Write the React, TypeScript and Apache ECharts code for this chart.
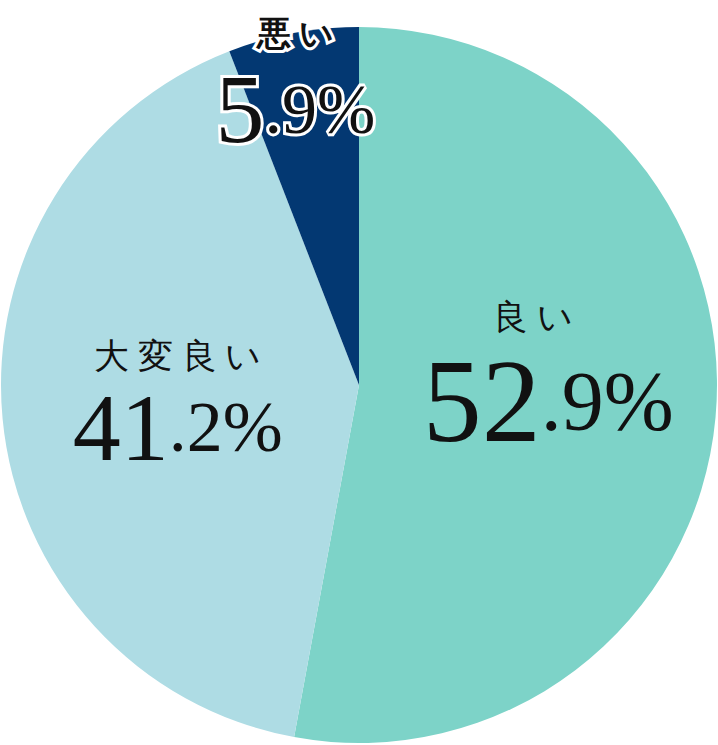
import { useEffect, useRef } from 'react'
import * as echarts from 'echarts'

const categories = ['良い', '大変良い', '悪い']
const labelTexts = ['良 い', '大 変 良 い', '悪 い']
const values = [52.9, 41.2, 5.9]
const colors = ['#7dd3c8', '#aedce4', '#033872']

const serif = 'Liberation Serif'

export default function App() {
  const ref = useRef<HTMLDivElement | null>(null)

  useEffect(() => {
    if (!ref.current) return
    document.body.style.margin = '0'
    const chart = echarts.init(ref.current, null, { renderer: 'svg' })

    const splitNum = (v: number) => {
      const [a, b] = v.toFixed(1).split('.')
      return { int: a, frac: '.' + b + '%' }
    }

    const data = categories.map((name, i) => {
      const { int, frac } = splitNum(values[i])
      const big = i === 0
      const small = i === 2
      const intSize = big ? 118 : small ? 98 : 96
      const fracSize = big ? 84 : small ? 70 : 72
      const nameSize = small ? 34 : 35
      const border = small ? { textBorderColor: '#fff', textBorderWidth: 6 } : {}
      return {
        name,
        value: values[i],
        itemStyle: { color: colors[i] },
        label: {
          formatter: `{n|${labelTexts[i]}}\n{i|${int}}{f|${frac}}`,
          rich: {
            n: {
              fontSize: nameSize,
              fontFamily: serif,
              fontWeight: small ? 'bold' : 'normal',
              color: '#111',
              lineHeight: big ? 56 : small ? 58 : 50,
              padding: big ? [0, 30, 0, 0] : 0,
              ...border,
            },
            i: { fontSize: intSize, fontFamily: serif, color: '#111', lineHeight: intSize * 0.95, ...border },
            f: { fontSize: fracSize, fontFamily: serif, color: '#111', lineHeight: intSize * 0.95, ...border },
          },
        },
      }
    })

    const offsets = [
      { dx: 8, dy: -28 },
      { dx: 0, dy: 0 },
      { dx: -30, dy: -126 },
    ]

    chart.setOption({
      animation: false,
      series: [
        {
          type: 'pie',
          center: [359, 385],
          radius: 358,
          startAngle: 90,
          clockwise: true,
          label: { show: true, position: 'inside', align: 'center' },
          labelLine: { show: false },
          labelLayout: (params: any) => offsets[params.dataIndex],
          emphasis: { disabled: true },
          data,
        },
      ],
    })

    const handleResize = () => chart.resize()
    window.addEventListener('resize', handleResize)
    return () => {
      window.removeEventListener('resize', handleResize)
      chart.dispose()
    }
  }, [])

  return <div ref={ref} style={{ width: 718, height: 745 }} />
}
